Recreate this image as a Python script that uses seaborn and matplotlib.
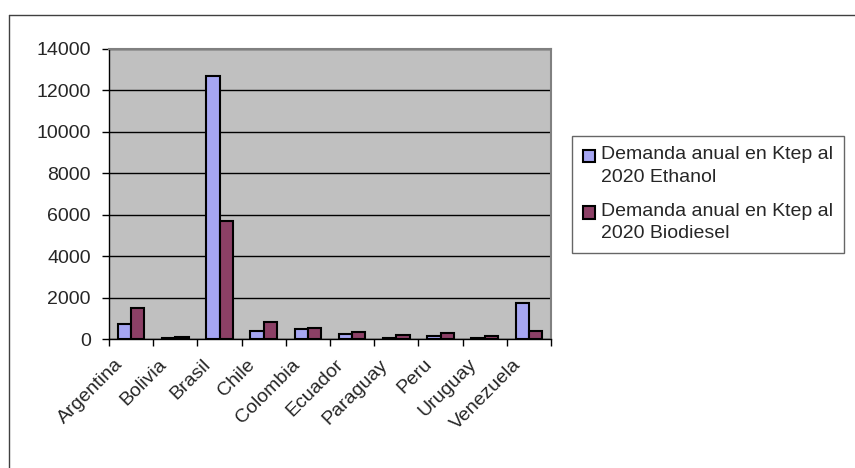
import matplotlib
matplotlib.use("Agg")
import matplotlib.pyplot as plt
import matplotlib.patches as mpatches
from matplotlib.legend_handler import HandlerPatch
from matplotlib.lines import Line2D
from matplotlib.ticker import FixedLocator, MultipleLocator
from matplotlib.transforms import ScaledTranslation
import pandas as pd
import seaborn as sns

countries = ["Argentina", "Bolivia", "Brasil", "Chile", "Colombia",
             "Ecuador", "Paraguay", "Peru", "Uruguay", "Venezuela"]
ethanol = [730, 50, 12700, 370, 500, 250, 30, 130, 30, 1750]
biodiesel = [1500, 80, 5700, 800, 550, 340, 175, 300, 130, 370]
series_names = ["Demanda anual en Ktep al\n2020 Ethanol",
                "Demanda anual en Ktep al\n2020 Biodiesel"]
series_colors = ["#9999FF", "#993366"]

df = pd.DataFrame({
    "country": countries * 2,
    "value": ethanol + biodiesel,
    "series": [series_names[0]] * len(countries) + [series_names[1]] * len(countries),
})

FS = 14
sns.set_theme(style="white")
plt.rcParams["font.family"] = ["Liberation Sans", "DejaVu Sans"]
plt.rcParams["font.size"] = FS

fig = plt.figure(figsize=(8.55, 4.68), dpi=100)
ax = fig.add_axes([109 / 855, 1 - 339 / 468, 442 / 855, 290 / 468])

sns.barplot(data=df, x="country", y="value", hue="series",
            palette=dict(zip(series_names, series_colors)),
            width=0.6, edgecolor="black", linewidth=1.5, ax=ax)

ax.set_facecolor("#C0C0C0")
ax.set_xlim(-0.5, len(countries) - 0.5)
ax.set_ylim(0, 14000)
ax.yaxis.set_major_locator(MultipleLocator(2000))
ax.grid(axis="y", color="black", linewidth=1)
ax.set_axisbelow(True)
ax.set_xlabel("")
ax.set_ylabel("")

for side in ["top", "right"]:
    ax.spines[side].set_color("#808080")
    ax.spines[side].set_linewidth(1.5)
for side in ["left", "bottom"]:
    ax.spines[side].set_color("black")
    ax.spines[side].set_linewidth(1)

ax.tick_params(axis="y", which="major", direction="out", length=5, width=1,
               color="black", left=True, labelsize=FS, pad=8)
ax.tick_params(axis="x", which="major", length=0, labelsize=FS, pad=16.5)
ax.xaxis.set_minor_locator(FixedLocator([i - 0.5 for i in range(len(countries) + 1)]))
ax.tick_params(axis="x", which="minor", direction="out", length=5, width=1,
               color="black", bottom=True)


# legend squares sit beside the first line of each two-line label
def top_square(legend, orig_handle, xdescent, ydescent, width, height, fontsize):
    return mpatches.Rectangle((-xdescent, -ydescent + 7.0), width, height)


sns.move_legend(ax, loc="upper left", bbox_to_anchor=(572 / 855, 1 - 135.5 / 468),
                bbox_transform=fig.transFigure, title=None, frameon=True,
                fontsize=FS, handlelength=0.62, handleheight=0.62,
                handletextpad=0.34, labelspacing=0.85, borderpad=0.55,
                borderaxespad=0,
                handler_map={mpatches.Rectangle: HandlerPatch(patch_func=top_square)})
leg = ax.get_legend()
leg.get_frame().set_edgecolor("#404040")
leg.get_frame().set_linewidth(1)
leg.get_frame().set_boxstyle("square", pad=0)
for h in leg.legend_handles:
    h.set_edgecolor("black")
    h.set_linewidth(1.5)
for t in leg.get_texts():
    t.set_linespacing(1.45)

# rotated category labels, ending just left of each category centre
shift = ScaledTranslation(-11 / 100, 0, fig.dpi_scale_trans)
for lbl in ax.get_xticklabels():
    lbl.set_rotation(45)
    lbl.set_ha("right")
    lbl.set_va("center")
    lbl.set_rotation_mode("anchor")
    lbl.set_transform(lbl.get_transform() + shift)

# chart area border
fig.add_artist(Line2D([9 / 855, 1.0], [1 - 15 / 468, 1 - 15 / 468],
                      transform=fig.transFigure, color="#404040", linewidth=1))
fig.add_artist(Line2D([9 / 855, 9 / 855], [0.0, 1 - 15 / 468],
                      transform=fig.transFigure, color="#404040", linewidth=1))

fig.savefig("out.png", dpi=100)
